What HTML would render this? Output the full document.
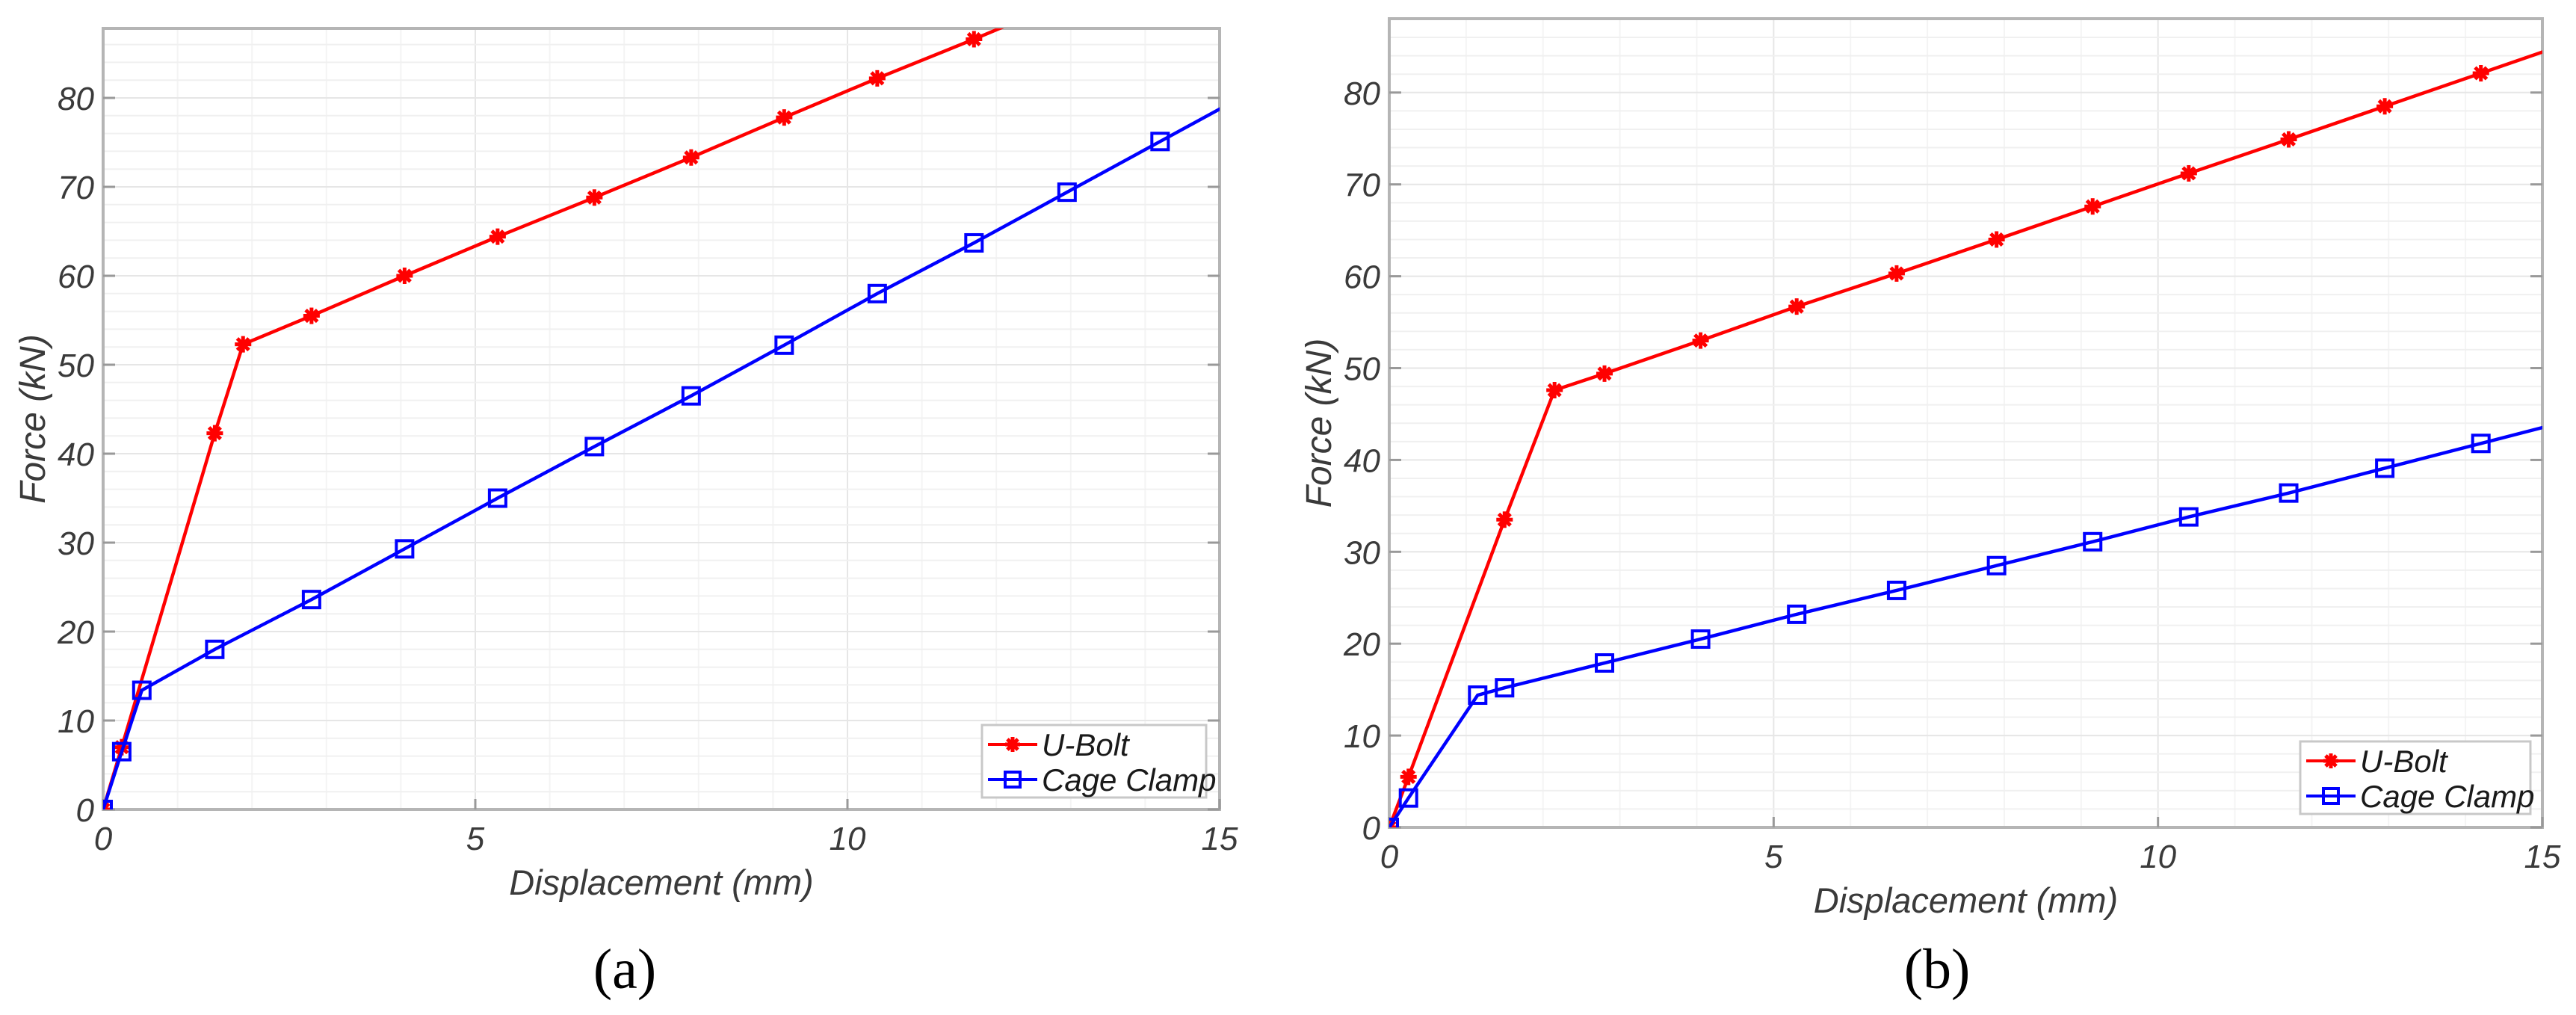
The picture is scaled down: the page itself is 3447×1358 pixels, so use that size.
<!DOCTYPE html>
<html><head><meta charset="utf-8"><style>
html,body{margin:0;padding:0;background:#fff;}
svg{display:block;}
text{font-family:"Liberation Sans",sans-serif;}
</style></head><body>
<svg id="fig" width="3447" height="1358" viewBox="0 0 3447 1358" xmlns="http://www.w3.org/2000/svg"></svg>
<script>
const xTicks = [0, 5, 10, 15];
const yTicks = [0, 10, 20, 30, 40, 50, 60, 70, 80];
const aUboltX = [0, 0.25, 1.5, 1.88, 2.8, 4.05, 5.3, 6.6, 7.9, 9.15, 10.4, 11.7, 12.95];
const aUboltY = [0, 7, 42.3, 52.3, 55.5, 60, 64.4, 68.8, 73.3, 77.8, 82.2, 86.6, 91];
const aCageX = [0, 0.25, 0.52, 1.5, 2.8, 4.05, 5.3, 6.6, 7.9, 9.15, 10.4, 11.7, 12.95, 14.2, 15.45];
const aCageY = [0, 6.5, 13.4, 18, 23.6, 29.3, 35, 40.8, 46.5, 52.2, 58, 63.7, 69.4, 75.1, 80.8];
const bUboltX = [0, 0.25, 1.5, 2.15, 2.8, 4.05, 5.3, 6.6, 7.9, 9.15, 10.4, 11.7, 12.95, 14.2, 15.45];
const bUboltY = [0, 5.5, 33.5, 47.6, 49.4, 53, 56.7, 60.3, 64, 67.6, 71.2, 74.9, 78.5, 82.1, 85.7];
const bCageX = [0, 0.25, 1.15, 1.5, 2.8, 4.05, 5.3, 6.6, 7.9, 9.15, 10.4, 11.7, 12.95, 14.2, 15.45];
const bCageY = [0, 3.2, 14.4, 15.2, 17.9, 20.5, 23.2, 25.8, 28.5, 31.1, 33.8, 36.4, 39.1, 41.8, 44.5];

const NS = "http://www.w3.org/2000/svg";
const svg = document.getElementById('fig');
function mk(tag, attrs, parent) {
  const e = document.createElementNS(NS, tag);
  for (const k in attrs) e.setAttribute(k, attrs[k]);
  (parent || svg).appendChild(e);
  return e;
}
function star(g, cx, cy, r, col) {
  for (let i = 0; i < 4; i++) {
    const a = i * Math.PI / 4;
    mk('line', {x1: cx - r*Math.cos(a), y1: cy - r*Math.sin(a), x2: cx + r*Math.cos(a), y2: cy + r*Math.sin(a), stroke: col, 'stroke-width': 5}, g);
  }
}
function panel(id, P, series, legend, label) {
  const sx = v => P.l + (v - 0) / 15 * (P.r - P.l);
  const sy = v => P.b - v * P.k;
  const g = mk('g', {});
  
  
  const clipId = 'clip' + id;
  const cp = mk('clipPath', {id: clipId}, g);
  mk('rect', {x: P.l, y: P.t, width: P.r - P.l, height: P.b - P.t}, cp);
  for (let v = 1; v < 15; v++) mk('line', {x1: sx(v), x2: sx(v), y1: P.t, y2: P.b, stroke: v % 5 ? '#f4f4f4' : '#e6e6e6', 'stroke-width': 2}, g);
  for (let v = 2; sy(v) > P.t; v += 2) mk('line', {x1: P.l, x2: P.r, y1: sy(v), y2: sy(v), stroke: v % 10 ? '#f0f0f0' : '#e6e6e6', 'stroke-width': 2}, g);
  const box = mk('rect', {x: P.l, y: P.t, width: P.r - P.l, height: P.b - P.t, fill: 'none', stroke: '#b5b5b5', 'stroke-width': 4}, g);
  
  
  xTicks.forEach(v => {
    mk('line', {x1: sx(v), x2: sx(v), y1: P.b, y2: P.b - 14, stroke: '#999', 'stroke-width': 3}, g);
    const t = mk('text', {x: sx(v), y: P.b + 54, 'font-size': 44, 'font-style': 'italic', fill: '#3a3a3a', 'text-anchor': 'middle'}, g);
    t.textContent = v;
    
    
  });
  yTicks.forEach(v => {
    mk('line', {x1: P.l, x2: P.l + 16, y1: sy(v), y2: sy(v), stroke: '#999', 'stroke-width': 3}, g);
    mk('line', {x1: P.r, x2: P.r - 16, y1: sy(v), y2: sy(v), stroke: '#999', 'stroke-width': 3}, g);
    const t = mk('text', {x: P.l - 12, y: sy(v) + 16, 'font-size': 44, 'font-style': 'italic', fill: '#3a3a3a', 'text-anchor': 'end'}, g);
    t.textContent = v;
    
    
  });
  const xt = mk('text', {x: (P.l + P.r) / 2, y: P.b + 114, 'font-size': 47, 'font-style': 'italic', fill: '#3a3a3a', 'text-anchor': 'middle'}, g);
  xt.textContent = 'Displacement (mm)';
  
  
  const yc = (P.t + P.b) / 2;
  const cx = P.l - 94;
  const yt = mk('text', {x: cx, y: yc + 16, 'font-size': 48, 'font-style': 'italic', fill: '#3a3a3a', 'text-anchor': 'middle', transform: `rotate(-90 ${cx} ${yc})`}, g);
  yt.textContent = 'Force (kN)';
  
  
  series.forEach(s => {
    const sg = mk('g', {'clip-path': `url(#${clipId})`}, g);
    
    
    const pts = s.x.map((v, i) => sx(v) + ',' + sy(s.y[i])).join(' ');
    mk('polyline', {points: pts, fill: 'none', stroke: s.col, 'stroke-width': 4.5}, sg);
    s.x.forEach((v, i) => {
      if (s.m === 'star') star(sg, sx(v), sy(s.y[i]), 11, s.col);
      else mk('rect', {x: sx(v) - 11, y: sy(s.y[i]) - 11, width: 22, height: 22, fill: 'none', stroke: s.col, 'stroke-width': 4}, sg);
    });
  });
  const L = legend;
  const lg = mk('g', {}, g);
  
  
  mk('rect', {x: L.x, y: L.y, width: L.w, height: L.h, fill: '#fff', stroke: '#c8c8c8', 'stroke-width': 3}, lg);
  series.forEach((s, i) => {
    const yy = L.y + 26 + i * 47;
    const ex = L.x + 8, mx = L.x + 41;
    mk('line', {x1: ex, x2: ex + 66, y1: yy, y2: yy, stroke: s.col, 'stroke-width': 4}, lg);
    if (s.m === 'star') star(lg, mx, yy, 10, s.col);
    else mk('rect', {x: mx - 10, y: yy - 10, width: 20, height: 20, fill: 'none', stroke: s.col, 'stroke-width': 4}, lg);
    const t = mk('text', {x: L.x + 80, y: yy + 15, 'font-size': 42, 'font-style': 'italic', fill: '#1a1a1a'}, lg);
    t.textContent = s.label;
    
    
  });
  const cap = mk('text', {x: label.x, y: label.y, 'font-size': 76, fill: '#000', 'text-anchor': 'middle'}, g);
  cap.setAttribute('font-family', '"Liberation Serif", serif');
  cap.setAttribute('style', 'font-family:"Liberation Serif",serif');
  cap.textContent = label.t;
  
  
}
panel('a', {l: 138, r: 1632, t: 38, b: 1083, k: 11.9},
  [{name: 'u-bolt', label: 'U-Bolt', x: aUboltX, y: aUboltY, col: '#ff0000', m: 'star'},
   {name: 'cage-clamp', label: 'Cage Clamp', x: aCageX, y: aCageY, col: '#0000ff', m: 'sq'}],
  {x: 1314, y: 970, w: 300, h: 97}, {t: '(a)', x: 836, y: 1322});
panel('b', {l: 1859, r: 3402, t: 25, b: 1107, k: 12.29},
  [{name: 'u-bolt', label: 'U-Bolt', x: bUboltX, y: bUboltY, col: '#ff0000', m: 'star'},
   {name: 'cage-clamp', label: 'Cage Clamp', x: bCageX, y: bCageY, col: '#0000ff', m: 'sq'}],
  {x: 3078, y: 992, w: 308, h: 97}, {t: '(b)', x: 2592, y: 1322});
</script>
</body></html>
